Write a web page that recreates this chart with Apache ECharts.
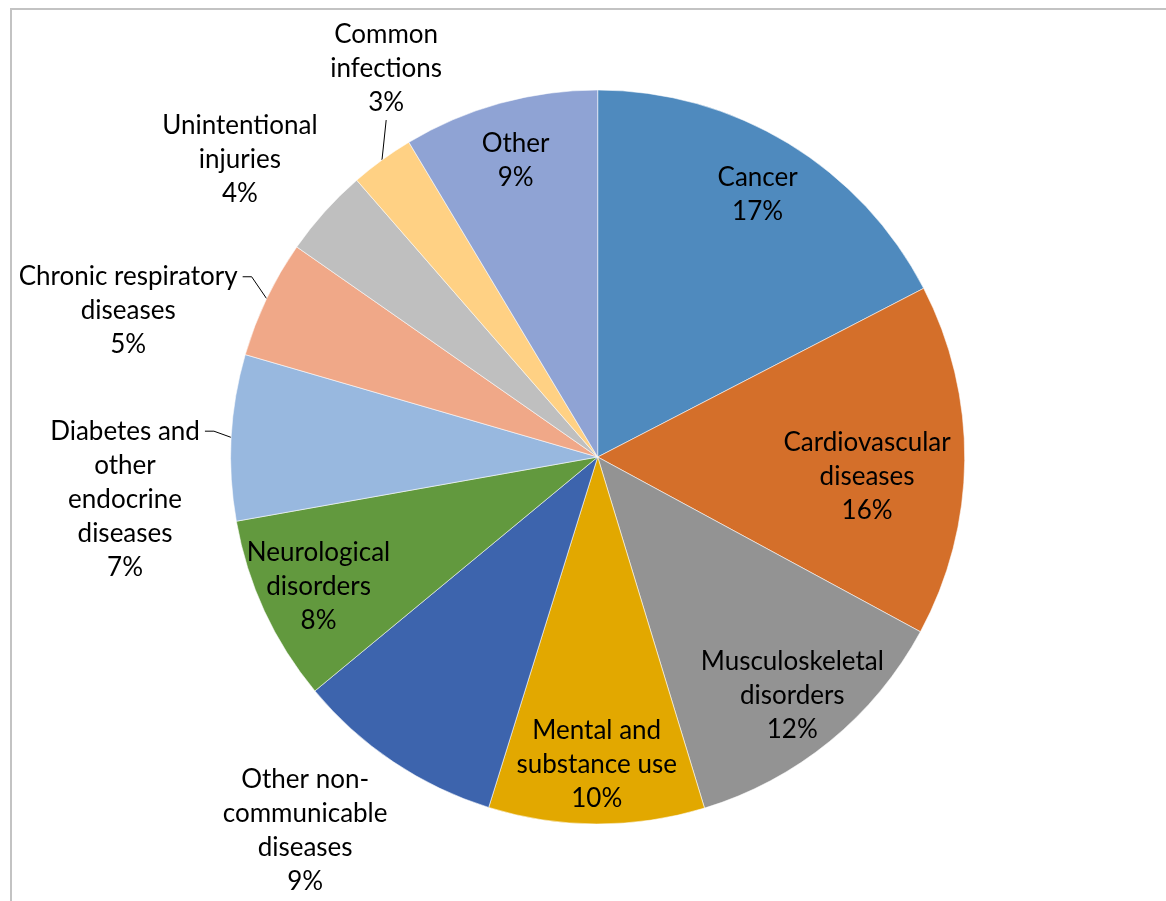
<!DOCTYPE html>
<html>
<head>
<meta charset="utf-8">
<script src="https://cdn.jsdelivr.net/npm/echarts@6/dist/echarts.min.js"></script>
<style>
html,body{margin:0;padding:0;background:#fff;}
#chart{width:1166px;height:901px;}
</style>
</head>
<body>
<div id="chart"></div>
<script>
// ---- data ----
var categories = [
  'Cancer',
  'Cardiovascular\ndiseases',
  'Musculoskeletal\ndisorders',
  'Mental and\nsubstance use',
  'Other non-\ncommunicable\ndiseases',
  'Neurological\ndisorders',
  'Diabetes and\nother\nendocrine\ndiseases',
  'Chronic respiratory\ndiseases',
  'Unintentional\ninjuries',
  'Common\ninfections',
  'Other'
];
var shares = [17.4, 15.5, 12.4, 9.5, 9.2, 8.2, 7.3, 5.2, 3.9, 2.8, 8.6];
var colors = ['#4F8ABE', '#D46F2A', '#939393', '#E2A800', '#3D64AD', '#62993E',
              '#98B8DF', '#F0A888', '#BFBFBF', '#FFD184', '#8FA3D4'];
// which labels sit outside the pie (Excel-style callouts)
var outsideLabel = [false, false, false, false, true, false, true, true, true, true, false];
var leaderLine   = [false, false, false, false, false, false, true, true, false, true, false];
// callouts whose leader line attaches to the first text line (Excel style)
var firstLineLeader = [false, false, false, false, false, false, true, true, false, false, false];

// ---- layout (not data) ----
var PIE_CX = 597.7, PIE_CY = 457, PIE_R = 367;
var LINE_H = 34;
// label spots in polar form: [angle clockwise from 12 o'clock (deg), radius / PIE_R]
var labelSpots = {
  1: [94.25, 0.736],
  4: [218.1, 1.292],
  6: [264.9, 1.293],
  7: [287.3, 1.340],
  8: [309.7, 1.267],
  9: [331.4, 1.204]
};
function spotXY(i) {
  var s = labelSpots[i];
  var a = s[0] * Math.PI / 180, r = s[1] * PIE_R;
  return { x: PIE_CX + r * Math.sin(a), y: PIE_CY - r * Math.cos(a) };
}
var total = shares.reduce(function (a, b) { return a + b; }, 0);
function midAngleRad(i) {
  var acc = 0;
  for (var j = 0; j < i; j++) acc += shares[j];
  return (acc + shares[i] / 2) / total * 2 * Math.PI;
}

var FONT = 'Lato';
var textStyle = { color: '#000', fontFamily: FONT, fontSize: 26, lineHeight: LINE_H, align: 'center' };

function fmt(p) { return p.name + '\n' + Math.round(p.value) + '%'; }

var pieData = categories.map(function (c, i) {
  return {
    name: c, value: shares[i],
    itemStyle: { color: colors[i] },
    label: { show: outsideLabel[i] },
    labelLine: { show: leaderLine[i] }
  };
});
var ringData = categories.map(function (c, i) {
  return { name: c, value: shares[i], label: { show: !outsideLabel[i] } };
});

var chart = echarts.init(document.getElementById('chart'), null, { renderer: 'canvas' });
chart.setOption({
  animation: false,
  backgroundColor: '#fff',
  graphic: [{
    type: 'rect', silent: true, z: -1,
    shape: { x: 11, y: 9, width: 1300, height: 1000 },
    style: { fill: 'none', stroke: '#c3c3c3', lineWidth: 2 }
  }],
  series: [
    {
      type: 'pie',
      center: [PIE_CX, PIE_CY],
      radius: PIE_R,
      startAngle: 90,
      clockwise: true,
      avoidLabelOverlap: false,
      silent: true,
      data: pieData,
      itemStyle: { borderColor: 'rgba(255,255,255,0.55)', borderWidth: 1 },
      label: Object.assign({ position: 'outside', formatter: fmt }, textStyle),
      labelLine: { length: 0, length2: 0, lineStyle: { color: '#000', width: 1 } },
      labelLayout: function (p) {
        var i = p.dataIndex;
        if (!labelSpots[i]) return {};
        var xy = spotXY(i);
        var out = { x: xy.x, y: xy.y, align: 'center', verticalAlign: 'middle' };
        if (firstLineLeader[i]) {
          var nLines = categories[i].split('\n').length + 1;
          var firstY = xy.y - (nLines - 1) / 2 * LINE_H;
          var endX = xy.x + p.labelRect.width / 2 + 5;
          var a = midAngleRad(i);
          var edge = [PIE_CX + PIE_R * Math.sin(a), PIE_CY - PIE_R * Math.cos(a)];
          out.labelLinePoints = [edge, [endX + 9, firstY], [endX, firstY]];
        }
        return out;
      },
      emphasis: { disabled: true }
    },
    {
      type: 'pie',
      center: [PIE_CX, PIE_CY],
      radius: [PIE_R * 0.66, PIE_R],
      startAngle: 90,
      clockwise: true,
      avoidLabelOverlap: false,
      silent: true,
      data: ringData,
      itemStyle: { color: 'rgba(0,0,0,0)' },
      label: Object.assign({ position: 'inside', formatter: fmt }, textStyle),
      labelLine: { show: false },
      labelLayout: function (p) {
        if (!labelSpots[p.dataIndex]) return {};
        var xy = spotXY(p.dataIndex);
        return { x: xy.x, y: xy.y, align: 'center', verticalAlign: 'middle' };
      },
      emphasis: { disabled: true }
    }
  ]
});
</script>
</body>
</html>
